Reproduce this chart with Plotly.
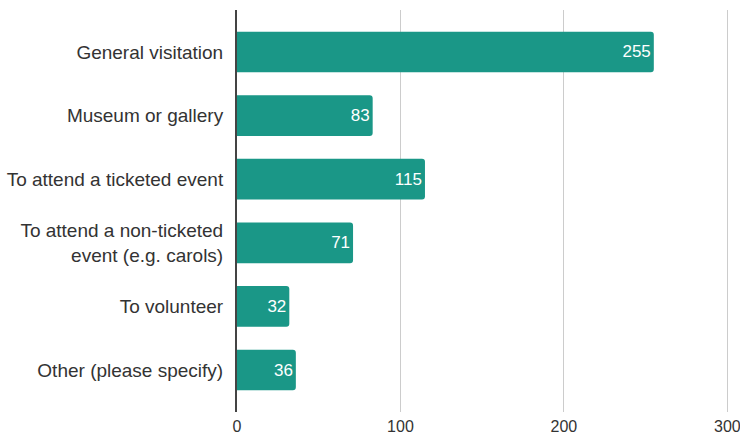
import plotly.graph_objects as go

categories = [
    "General visitation",
    "Museum or gallery",
    "To attend a ticketed event",
    "To attend a non-ticketed<br>event (e.g. carols)",
    "To volunteer",
    "Other (please specify)",
]
values = [255, 83, 115, 71, 32, 36]
x_ticks = [0, 100, 200, 300]

FONT = "Liberation Sans, Arial, Helvetica, sans-serif"

fig = go.Figure(
    go.Bar(
        x=values,
        y=categories,
        orientation="h",
        marker=dict(color="#1a9787", line=dict(width=0)),
        text=[str(v) for v in values],
        textposition="inside",
        insidetextanchor="end",
        textfont=dict(color="white", size=17, family=FONT),
        width=0.64,
        hoverinfo="skip",
    )
)

fig.update_layout(
    width=740,
    height=436,
    margin=dict(l=237, r=11, t=10, b=24),
    paper_bgcolor="white",
    plot_bgcolor="white",
    barcornerradius=3,
    showlegend=False,
    font=dict(family=FONT, color="#333333"),
)
fig.update_xaxes(
    range=[0, 301],
    tickvals=x_ticks,
    showgrid=True,
    gridcolor="#cccccc",
    gridwidth=1,
    zeroline=False,
    showline=False,
    automargin=False,
    ticklabeloverflow="allow",
    ticklabelstandoff=3,
    tickfont=dict(size=16, color="#333333"),
    ticks="",
)
fig.update_yaxes(
    type="category",
    categoryorder="array",
    categoryarray=categories,
    range=[5.66, -0.66],
    showgrid=False,
    showline=True,
    linecolor="#444444",
    linewidth=2,
    automargin=False,
    ticks="",
    ticklabelstandoff=8,
    tickfont=dict(size=19, color="#333333"),
)

# Remove the browser's default page margin so the 740x436 figure fills the window.
fig.write_html(
    "out.html",
    config={"displayModeBar": False},
    post_script="document.body.style.margin='0';document.body.style.overflow='hidden';",
)
